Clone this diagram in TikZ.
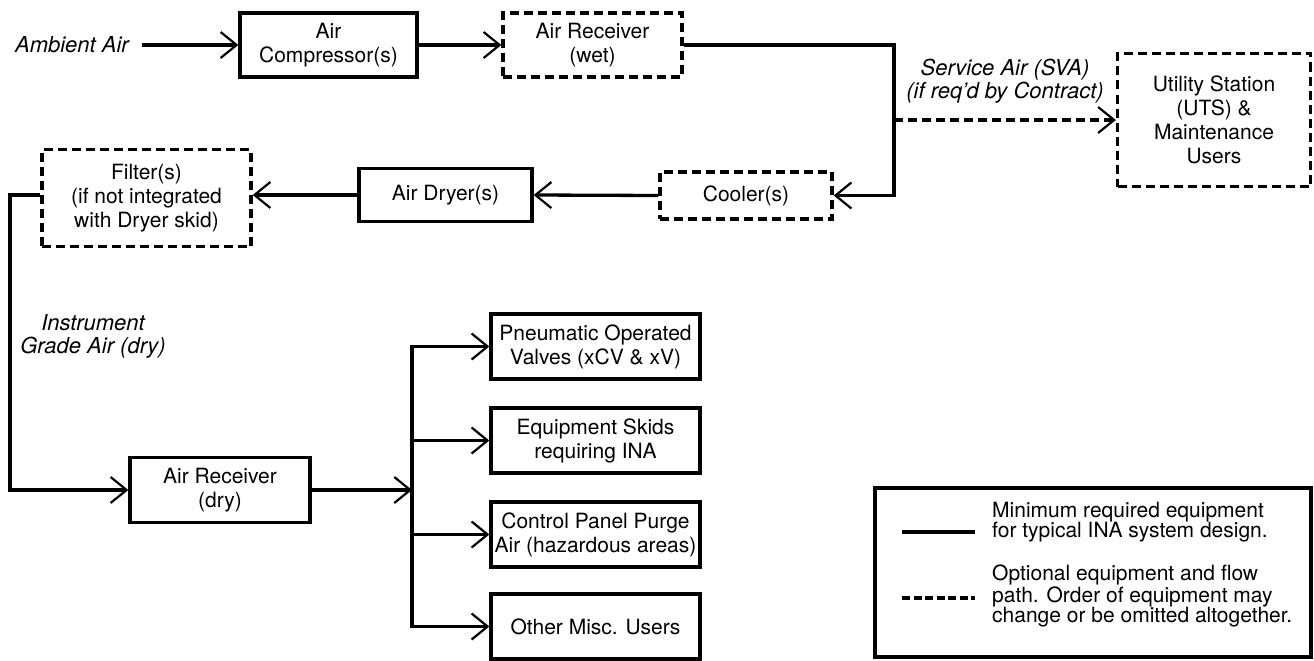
\documentclass[tikz,border=0pt]{standalone}
\usepackage{fontspec}
\setmainfont{TeX Gyre Heros}
\usetikzlibrary{arrows.meta}
\begin{document}
\begin{tikzpicture}[x=1pt,y=-1pt,
  unit/.style={draw, line width=3.3pt, align=center, inner sep=0pt,
    font=\fontsize{21}{24}\selectfont},
  optional/.style={unit, dash pattern=on 9pt off 5pt},
  barb/.tip={Straight Barb[length=16pt,width=26pt,line width=2.2pt]},
  pipe/.style={line width=3.3pt},
  flow/.style={pipe, -barb},
  note/.style={font=\itshape\fontsize{22}{24}\selectfont, align=center, inner sep=0pt},
  legendtext/.style={font=\fontsize{21}{20}\selectfont, align=left, inner sep=0pt, anchor=west}
]
\useasboundingbox (0,0) rectangle (1314,661);

% --- compressed air generation ---
\node[note, anchor=east] (ambient) at (129,45) {Ambient Air};
\node[unit, minimum width=177pt, minimum height=64pt] (comp) at (328.5,45) {Air\\Compressor(s)};
\node[optional, minimum width=179pt, minimum height=64pt] (wet) at (592.5,45) {Air Receiver\\(wet)};
\node[optional, minimum width=172pt, minimum height=47pt] (cool) at (746,195.5) {Cooler(s)};
\node[optional, minimum width=193pt, minimum height=133pt] (uts) at (1214,120) {Utility Station\\(UTS) \&\\Maintenance\\Users};
\node[unit, minimum width=173pt, minimum height=53pt] (dryer) at (445.5,195) {Air Dryer(s)};
\node[optional, minimum width=209pt, minimum height=97pt] (filter) at (146.5,198) {Filter(s)\\(if not integrated\\with Dryer skid)};

\node[note] (sva) at (1005,70) {Service Air (SVA)};
\node[note] (req) at (1005,93) {(if req'd by Contract)};

\coordinate (amb) at (142,45);
\coordinate (rise) at (894,45);
\coordinate (tee) at (894,120);
\coordinate (lft) at (10,195);

\draw[flow] (amb) -- (comp.west);
\draw[flow] (comp.east) -- (wet.west);
\draw[flow] (wet.east) -- (rise) |- (cool.east);
\draw[flow, dash pattern=on 9pt off 5pt] (tee) -- (uts.west |- tee);
\draw[flow] (cool.west) -- (dryer.east);
\draw[flow] (dryer.west) -- (filter.east |- dryer.west);

% --- instrument air distribution ---
\node[note, font=\itshape\fontsize{22}{23}\selectfont] (ina) at (93,336) {Instrument\\Grade Air (dry)};
\node[unit, minimum width=180pt, minimum height=65pt] (dry) at (220,490) {Air Receiver\\(dry)};
\coordinate (bus) at (412,490);

\node[unit, minimum width=209pt, minimum height=65pt] (pov) at (595.5,346.5) {Pneumatic Operated\\Valves (xCV \& xV)};
\node[unit, minimum width=209pt, minimum height=65pt] (skid) at (595.5,440.5) {Equipment Skids\\requiring INA};
\node[unit, minimum width=209pt, minimum height=65pt] (purge) at (595.5,534.5) {Control Panel Purge\\Air (hazardous areas)};
\node[unit, minimum width=209pt, minimum height=65pt] (misc) at (595.5,626.5) {Other Misc. Users};

\draw[flow] (filter.west |- lft) -- (lft) |- (dry.west);
\draw[flow] (dry.east) -- (bus);
\draw[pipe, barb-barb] (pov.west) -- (bus |- pov.west) -- (bus |- misc.west) -- (misc.west);
\draw[flow] (bus |- skid.west) -- (skid.west);
\draw[flow] (bus |- purge.west) -- (purge.west);

% --- legend ---
\node[draw, line width=3.3pt, minimum width=436pt, minimum height=169pt, inner sep=0pt] (legend) at (1093,572.5) {};
\node[legendtext] (lmin) at (992,522) {Minimum required equipment\\for typical INA system design.};
\node[legendtext] (lopt) at (992,596) {Optional equipment and flow\\path. Order of equipment may\\change or be omitted altogether.};
\coordinate (s1a) at (902,532);
\coordinate (s1b) at (975,532);
\coordinate (s2a) at (902,598);
\coordinate (s2b) at (975,598);
\draw[pipe] (s1a) -- (s1b);
\draw[pipe, dash pattern=on 8pt off 3.5pt] (s2a) -- (s2b);
\end{tikzpicture}
\end{document}
